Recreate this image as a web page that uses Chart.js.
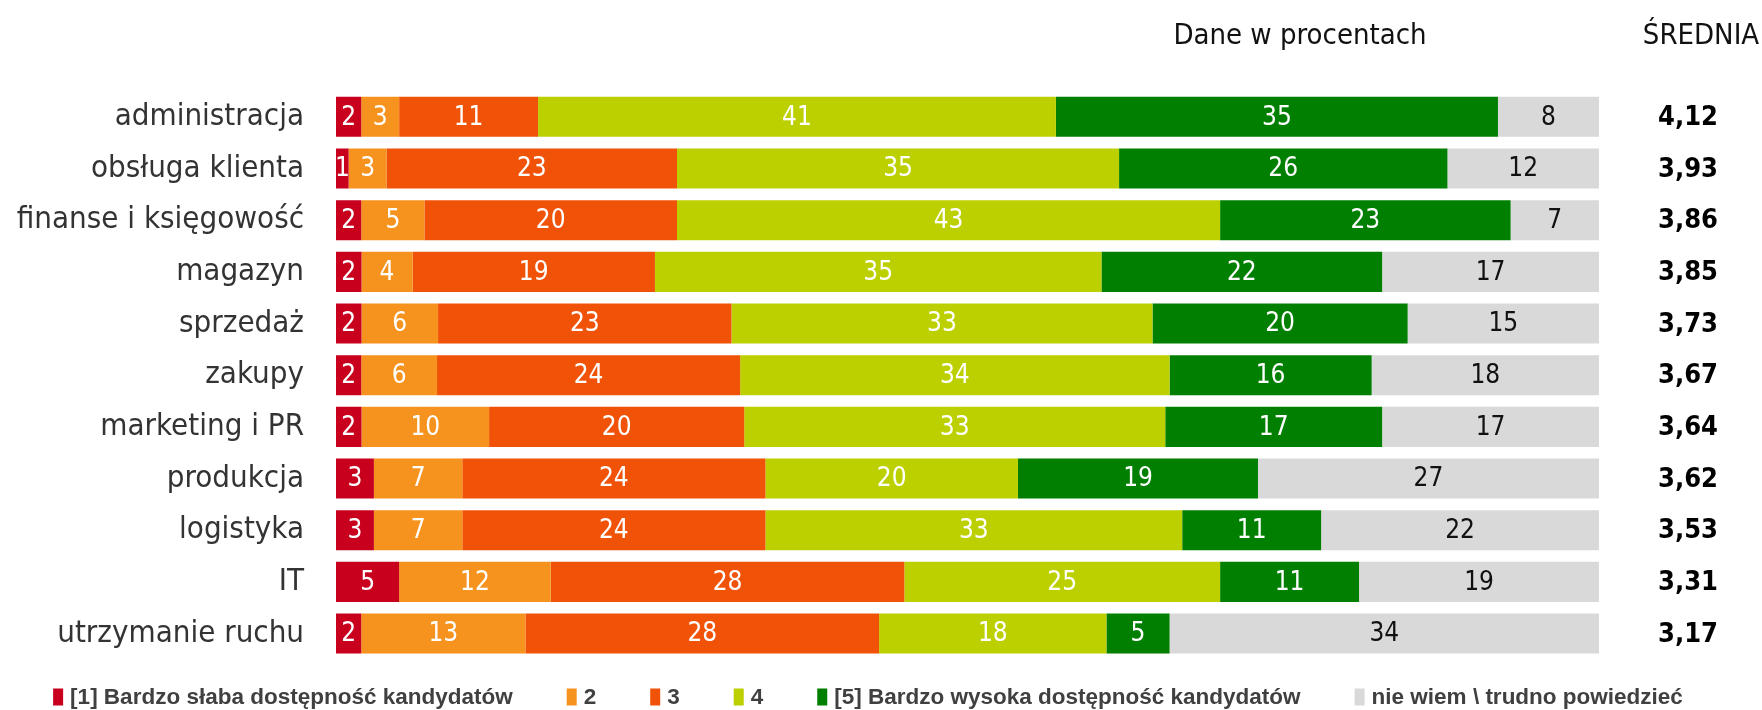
<!DOCTYPE html>
<html>
<head>
<meta charset="utf-8">
<script src="https://cdn.jsdelivr.net/npm/chart.js@4.4.1/dist/chart.umd.min.js"></script>
<style>
  html, body { margin: 0; padding: 0; background: #fff; }
  #wrap { width: 1762px; height: 710px; position: relative; }
</style>
</head>
<body>
<div id="wrap"><canvas id="chart"></canvas></div>
<script>
const categories = [
  "administracja",
  "obsługa klienta",
  "finanse i księgowość",
  "magazyn",
  "sprzedaż",
  "zakupy",
  "marketing i PR",
  "produkcja",
  "logistyka",
  "IT",
  "utrzymanie ruchu",
];

const level1 = [2, 1, 2, 2, 2, 2, 2, 3, 3, 5, 2];
const level2 = [3, 3, 5, 4, 6, 6, 10, 7, 7, 12, 13];
const level3 = [11, 23, 20, 19, 23, 24, 20, 24, 24, 28, 28];
const level4 = [41, 35, 43, 35, 33, 34, 33, 20, 33, 25, 18];
const level5 = [35, 26, 23, 22, 20, 16, 17, 19, 11, 11, 5];
const noAnswer = [8, 12, 7, 17, 15, 18, 17, 27, 22, 19, 34];

const averages = ["4,12", "3,93", "3,86", "3,85", "3,73", "3,67", "3,64", "3,62", "3,53", "3,31", "3,17"];

const seriesNames = [
  "[1] Bardzo słaba dostępność kandydatów",
  "2",
  "3",
  "4",
  "[5] Bardzo wysoka dostępność kandydatów",
  "nie wiem \\ trudno powiedzieć",
];

const seriesColors = ["#c8001e", "#f6921e", "#f05208", "#bcd000", "#007f00", "#d9d9d9"];
const labelColors = ["#fff", "#fff", "#fff", "#fff", "#fff", "#111"];

const FONT = '"DejaVu Sans Condensed", "DejaVu Sans", sans-serif';
const LEGEND_FONT = '"Liberation Sans Narrow", "Liberation Sans", sans-serif';

const rawSeries = [level1, level2, level3, level4, level5, noAnswer];

// rows are shown as 100% stacked bars
const rowTotals = categories.map((_, i) => rawSeries.reduce((s, arr) => s + arr[i], 0));

const datasets = rawSeries.map((arr, k) => ({
  label: seriesNames[k],
  data: arr.map((v, i) => (v / rowTotals[i]) * 100),
  rawValues: arr,
  labelColor: labelColors[k],
  backgroundColor: seriesColors[k],
  borderWidth: 0,
  barPercentage: 0.775,
  categoryPercentage: 1,
}));

const barLabels = {
  id: "barLabels",
  afterDatasetsDraw(chart) {
    const ctx = chart.ctx;
    ctx.save();
    ctx.font = `26px ${FONT}`;
    ctx.textAlign = "center";
    ctx.textBaseline = "middle";
    chart.data.datasets.forEach((ds, di) => {
      chart.getDatasetMeta(di).data.forEach((bar, i) => {
        const { x, y, base } = bar.getProps(["x", "y", "base"], true);
        ctx.fillStyle = ds.labelColor;
        ctx.fillText(String(ds.rawValues[i]), (x + base) / 2, y + 1);
      });
    });
    ctx.restore();
  },
};

const sideTexts = {
  id: "sideTexts",
  afterDraw(chart) {
    const ctx = chart.ctx;
    const yScale = chart.scales.y;
    ctx.save();
    ctx.textBaseline = "middle";
    ctx.textAlign = "center";
    ctx.fillStyle = "#111";
    ctx.font = `29px ${FONT}`;
    ctx.fillText("Dane w procentach", 1300, 36);
    ctx.fillText("ŚREDNIA", 1701, 36);

    ctx.font = `bold 27px ${FONT}`;
    ctx.fillStyle = "#000";
    averages.forEach((a, i) => {
      ctx.fillText(a, 1688, yScale.getPixelForValue(i) + 1);
    });

    // legend row
    ctx.font = `bold 22.5px ${LEGEND_FONT}`;
    ctx.textAlign = "left";
    const boxW = 10, boxH = 17, textGap = 7, itemGap = 54;
    const widths = seriesNames.map((n) => boxW + textGap + ctx.measureText(n).width);
    const total = widths.reduce((s, w) => s + w, 0) + itemGap * (widths.length - 1);
    let x = 868 - total / 2;
    const ly = 697;
    seriesNames.forEach((n, k) => {
      ctx.fillStyle = seriesColors[k];
      ctx.fillRect(x, ly - boxH / 2, boxW, boxH);
      ctx.fillStyle = "#404040";
      ctx.fillText(n, x + boxW + textGap, ly + 1);
      x += widths[k] + itemGap;
    });
    ctx.restore();
  },
};

new Chart(document.getElementById("chart"), {
  type: "bar",
  data: { labels: categories, datasets },
  options: {
    indexAxis: "y",
    responsive: true,
    maintainAspectRatio: false,
    animation: false,
    layout: { padding: { left: 0, right: 163, top: 91, bottom: 50 } },
    scales: {
      x: { stacked: true, min: 0, max: 100, display: false },
      y: {
        stacked: true,
        grid: { display: false, drawTicks: false },
        border: { display: false },
        ticks: {
          color: "#333",
          padding: 32,
          font: { family: FONT, size: 31 },
        },
        afterFit: (scale) => { scale.width = 336; },
      },
    },
    plugins: {
      legend: { display: false },
      tooltip: { enabled: false },
    },
  },
  plugins: [barLabels, sideTexts],
});
</script>
</body>
</html>
